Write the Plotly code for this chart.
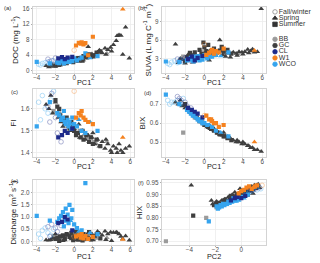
import plotly.graph_objects as go

# ---------------- data ----------------
# Spring, GC (dark triangles)
sgc_pc1 = [-3.0, -2.7, -2.3, -2.0, -1.7, -1.4, -1.0, -0.6, -0.3, 0.0, 0.3, 0.6, 0.9, 1.2, 1.5, 1.6, 1.9, 2.2, 2.5, 2.7, 3.0, 3.3, 3.6, 3.9, 4.2, 4.5, 4.6, 4.8, 5.0, 5.2, 5.5, 5.9, -2.5, -1.2, 0.5, 2.0, 3.4, 4.0]
sgc_doc = [1.3, 1.0, 1.4, 1.2, 1.6, 1.9, 2.0, 2.3, 2.1, 2.6, 2.9, 3.2, 3.0, 3.6, 6.2, 3.9, 4.3, 4.0, 4.8, 5.3, 4.6, 5.8, 5.4, 6.0, 6.7, 7.7, 9.0, 9.2, 9.1, 4.2, 11.2, 3.2, 1.1, 1.7, 2.4, 3.5, 4.2, 5.0]
sgc_suva = [5.3, 2.3, 2.8, 2.2, 3.6, 3.0, 2.6, 3.3, 2.9, 3.8, 3.2, 4.3, 3.5, 3.9, 4.2, 6.0, 3.6, 3.3, 3.9, 3.2, 4.0, 3.8, 4.1, 4.0, 4.1, 4.45, 3.9, 4.2, 4.5, 4.0, 4.1, 11.1, 3.0, 2.4, 2.7, 4.4, 3.5, 3.7]
sgc_fi = [1.62, 1.60, 1.58, 1.63, 1.56, 1.54, 1.55, 1.52, 1.50, 1.51, 1.49, 1.47, 1.50, 1.46, 1.48, 1.45, 1.47, 1.44, 1.46, 1.43, 1.45, 1.42, 1.44, 1.41, 1.43, 1.42, 1.40, 1.44, 1.41, 1.40, 1.42, 1.43, 1.66, 1.52, 1.53, 1.49, 1.46, 1.40]
sgc_bix = [0.71, 0.70, 0.69, 0.68, 0.67, 0.66, 0.64, 0.62, 0.61, 0.60, 0.58, 0.57, 0.57, 0.56, 0.55, 0.54, 0.54, 0.53, 0.52, 0.52, 0.51, 0.50, 0.50, 0.49, 0.49, 0.48, 0.48, 0.47, 0.47, 0.46, 0.46, 0.45, 0.72, 0.65, 0.59, 0.55, 0.51, 0.50]
sgc_q = [0.05, 0.04, 0.12, 0.30, 0.08, 0.18, 0.05, 0.25, 0.10, 0.05, 0.22, 0.12, 0.28, 0.08, 0.35, 0.15, 0.30, 0.20, 0.40, 0.33, 0.25, 0.42, 0.30, 0.37, 0.36, 0.37, 0.35, 0.30, 0.20, 0.10, 0.22, 0.04, 0.06, 0.02, 0.03, 0.05, 0.06, 0.02]
sgc_pc2 = [-3.85, -2.3, -2.2, -1.9, -1.5, -1.2, -1.0, -0.8, -0.6, -0.4, -0.2, 0.0, -0.5, 0.2, 0.4, -0.1, 0.6, 0.3, 0.8, 1.0, 0.7, 1.2, 0.9, 1.3, 0.5, 1.1, 0.1, -0.3, 1.4, -1.7, -1.4, -1.1, -2.0, -0.9, -0.7, 0.9, 0.5, -1.3]
sgc_hix = [0.94, 0.875, 0.86, 0.87, 0.875, 0.88, 0.89, 0.885, 0.895, 0.90, 0.905, 0.91, 0.91, 0.915, 0.92, 0.925, 0.93, 0.90, 0.935, 0.94, 0.915, 0.94, 0.92, 0.945, 0.905, 0.925, 0.895, 0.885, 0.93, 0.86, 0.865, 0.87, 0.865, 0.875, 0.90, 0.905, 0.925, 0.88]

# Spring, BB (grey triangles)
sbb_pc1 = [-1.5, 1.0, 2.4, 3.5]
sbb_doc = [1.4, 2.7, 3.6, 4.5]
sbb_suva = [2.7, 3.4, 3.8, 3.7]
sbb_fi = [1.58, 1.48, 1.44, 1.45]
sbb_bix = [0.66, 0.56, 0.53, 0.50]
sbb_q = [0.10, 0.05, 0.12, 0.15]
sbb_pc2 = [-1.6, 0.0, 0.6, 1.2]
sbb_hix = [0.87, 0.895, 0.915, 0.93]

# Summer, GC (dark squares)
ugc_pc1 = [-2.0, -1.8, -1.5, -1.2, -1.0, -0.8, -0.5, -0.3, 0.0, 0.2, 0.4, 0.7, 1.0, 1.3, 1.6, 2.0, 2.4, 2.8, -0.1, 1.8, -1.6, 0.9]
ugc_doc = [1.3, 2.0, 1.8, 2.2, 2.5, 2.0, 2.8, 2.4, 3.0, 2.7, 3.3, 3.1, 3.8, 3.5, 4.2, 4.0, 4.7, 5.0, 2.2, 3.6, 1.5, 2.6]
ugc_suva = [2.6, 3.2, 3.9, 3.5, 4.0, 3.0, 4.4, 3.7, 4.8, 4.2, 5.2, 3.9, 4.6, 4.0, 4.3, 4.1, 4.4, 3.8, 5.6, 4.9, 3.4, 3.6]
ugc_fi = [1.64, 1.61, 1.57, 1.55, 1.53, 1.56, 1.51, 1.54, 1.50, 1.48, 1.49, 1.47, 1.46, 1.48, 1.45, 1.44, 1.46, 1.43, 1.52, 1.47, 1.60, 1.50]
ugc_bix = [0.70, 0.68, 0.66, 0.65, 0.64, 0.63, 0.61, 0.61, 0.59, 0.59, 0.58, 0.57, 0.56, 0.55, 0.54, 0.53, 0.52, 0.51, 0.60, 0.54, 0.67, 0.57]
ugc_q = [0.10, 0.15, 0.20, 0.25, 0.12, 0.30, 0.18, 0.35, 0.20, 0.40, 0.10, 0.25, 0.30, 0.15, 0.38, 0.22, 0.28, 0.12, 0.05, 0.08, 0.02, 0.04]
ugc_pc2 = [-3.7, -2.1, -1.8, -1.5, -1.3, -1.0, -0.8, -0.6, -0.4, -0.2, 0.0, 0.2, 0.4, 0.6, 0.8, 1.0, 1.2, 0.3, -0.9, 0.5, -1.6, -0.3]
ugc_hix = [0.81, 0.855, 0.865, 0.86, 0.875, 0.87, 0.895, 0.88, 0.89, 0.90, 0.905, 0.90, 0.915, 0.92, 0.925, 0.93, 0.935, 0.91, 0.885, 0.90, 0.855, 0.895]

# Summer, BB (grey squares)
ubb_pc1 = [-2.2, -1.0, -0.2, 0.6, 1.4, 2.1]
ubb_doc = [1.6, 2.1, 2.5, 2.9, 3.4, 3.9]
ubb_suva = [3.3, 3.6, 4.0, 3.4, 4.1, 3.7]
ubb_fi = [1.59, 1.55, 1.52, 1.50, 1.47, 1.45]
ubb_bix = [0.55, 0.63, 0.60, 0.58, 0.55, 0.53]
ubb_q = [0.20, 0.15, 0.28, 0.35, 0.22, 0.10]
ubb_pc2 = [-5.8, -2.7, -0.5, 0.1, 0.7, -1.9]
ubb_hix = [0.70, 0.80, 0.885, 0.90, 0.915, 0.845]

# Fall/winter, WCO (open circles)
fwco_pc1 = [-3.8, -3.4, -3.1, -2.8, -2.5, -2.2, -3.6]
fwco_doc = [1.7, 1.9, 2.1, 2.3, 1.8, 2.6, 1.5]
fwco_suva = [2.2, 2.4, 2.6, 2.3, 2.8, 2.5, 2.0]
fwco_fi = [1.63, 1.66, 1.60, 1.58, 1.64, 1.68, 1.55]
fwco_bix = [0.72, 0.71, 0.71, 0.72, 0.70, 0.73, 0.70]
fwco_q = [0.30, 0.45, 0.55, 0.35, 0.25, 0.50, 0.12]
fwco_pc2 = [1.5, 1.2, 0.8, 1.0, 0.6, 1.3, 0.4]
fwco_hix = [0.925, 0.92, 0.915, 0.93, 0.91, 0.935, 0.905]

# Fall/winter, CL (open circles)
fcl_pc1 = [-2.8, -2.4, -2.0, -1.8, -1.4, -2.6]
fcl_doc = [3.0, 2.6, 3.3, 2.2, 2.8, 2.4]
fcl_suva = [2.9, 2.7, 3.1, 3.0, 2.6, 2.5]
fcl_fi = [1.61, 1.67, 1.56, 1.49, 1.45, 1.54]
fcl_bix = [0.74, 0.72, 0.71, 0.69, 0.68, 0.73]
fcl_q = [0.60, 0.70, 0.55, 0.40, 0.65, 0.20]
fcl_pc2 = [0.9, 0.5, 0.2, 1.1, 0.7, 1.4]
fcl_hix = [0.92, 0.915, 0.91, 0.925, 0.92, 0.93]

# Summer, WCO (blue squares)
uwco_pc1 = [-4.0, -1.6, -1.4, -1.2, -1.0, -0.9, -0.7, -0.6, -0.5, -0.3, -0.2, 0.0, 0.3, 0.8, 1.2, -1.8, -1.1, 2.5, -2.6]
uwco_doc = [2.3, 2.0, 2.8, 2.4, 3.0, 2.2, 2.6, 3.1, 2.3, 2.9, 2.5, 3.2, 2.7, 3.4, 4.5, 2.1, 1.9, 3.8, 1.9]
uwco_suva = [2.5, 2.8, 3.1, 2.6, 3.3, 2.9, 3.0, 3.4, 2.7, 3.2, 2.8, 3.5, 3.0, 3.3, 3.6, 2.7, 2.5, 4.0, 2.4]
uwco_fi = [1.52, 1.57, 1.55, 1.56, 1.54, 1.53, 1.55, 1.52, 1.54, 1.51, 1.56, 1.53, 1.52, 1.50, 1.49, 1.58, 1.59, 1.50, 1.63]
uwco_bix = [0.75, 0.66, 0.65, 0.64, 0.64, 0.63, 0.62, 0.62, 0.61, 0.61, 0.60, 0.60, 0.59, 0.58, 0.56, 0.67, 0.65, 0.53, 0.70]
uwco_q = [1.05, 0.95, 1.05, 1.20, 0.85, 1.35, 1.10, 0.75, 1.50, 0.95, 1.30, 0.70, 0.55, 0.45, 2.40, 0.80, 0.62, 0.30, 0.85]
uwco_pc2 = [-2.5, -1.8, -1.7, -1.5, -1.3, -1.1, -0.9, -0.7, -0.5, -0.3, -0.1, 0.1, 0.3, 0.5, -1.0, -1.6, -1.4, -0.6, -1.9]
uwco_hix = [0.785, 0.84, 0.845, 0.85, 0.855, 0.86, 0.865, 0.87, 0.875, 0.88, 0.885, 0.89, 0.895, 0.90, 0.87, 0.855, 0.86, 0.885, 0.85]

# Spring, WCO (blue triangles)
swco_pc1 = [-0.4, 0.5, 1.7]
swco_doc = [2.8, 3.0, 3.3]
swco_suva = [3.0, 3.2, 3.4]
swco_fi = [1.53, 1.55, 1.54]
swco_bix = [0.61, 0.59, 0.55]
swco_q = [0.85, 0.40, 0.35]
swco_pc2 = [-0.2, 0.2, -0.4]
swco_hix = [0.875, 0.885, 0.87]

# Summer, CL (navy squares)
ucl_pc1 = [-1.7, -1.3, -1.0, -0.7, -0.2]
ucl_doc = [3.2, 3.5, 3.0, 3.4, 3.6]
ucl_suva = [2.9, 3.3, 2.7, 3.1, 3.4]
ucl_fi = [1.47, 1.48, 1.50, 1.49, 1.51]
ucl_bix = [0.68, 0.67, 0.66, 0.65, 0.63]
ucl_q = [0.75, 0.80, 1.00, 0.90, 0.45]
ucl_pc2 = [-0.5, -0.3, 0.0, 0.3, -0.8]
ucl_hix = [0.885, 0.89, 0.885, 0.895, 0.875]

# Summer, W1 (orange squares)
uw1_pc1 = [0.2, 0.5, 0.7, 0.8, 1.0, 1.2, 2.0, 1.5]
uw1_doc = [6.5, 7.2, 7.0, 7.3, 6.8, 7.1, 8.75, 4.0]
uw1_suva = [3.6, 3.9, 4.1, 4.4, 3.8, 4.2, 4.6, 4.0]
uw1_fi = [1.56, 1.58, 1.57, 1.59, 1.56, 1.55, 1.53, 1.54]
uw1_bix = [0.64, 0.62, 0.62, 0.61, 0.60, 0.60, 0.59, 0.58]
uw1_q = [0.20, 0.25, 0.15, 0.30, 0.12, 0.22, 0.18, 0.10]
uw1_pc2 = [0.4, 0.6, 0.8, 1.05, 0.2, 1.2, 0.0, -0.2]
uw1_hix = [0.93, 0.935, 0.925, 0.935, 0.92, 0.94, 0.915, 0.905]

# Spring, W1 (orange triangle)
sw1_pc1 = [5.2]
sw1_doc = [15.8]
sw1_suva = [4.3]
sw1_fi = [1.47]
sw1_bix = [0.50]
sw1_q = [0.08]
sw1_pc2 = [0.9]
sw1_hix = [0.93]

# Fall/winter, W1 (orange open circle)
fw1_pc1 = [0.0]
fw1_doc = [5.3]
fw1_suva = [5.3]
fw1_fi = [1.68]
fw1_bix = [0.64]
fw1_q = [0.18]
fw1_pc2 = [1.6]
fw1_hix = [0.94]

legend_labels = ["Fall/winter", "Spring", "Summer", "BB", "GC", "CL", "W1", "WCO"]

# ---------------- styling ----------------
site_colors = {"BB": "#9b9b9b", "GC": "#3f3f3f", "CL": "#1d2a8a", "W1": "#f5821f", "WCO": "#35a4ee"}
season_symbols = {"Fall/winter": "circle-open", "Spring": "triangle-up", "Summer": "square"}
season_sizes = {"Fall/winter": 4.6, "Spring": 5, "Summer": 4.2}

def pack(pc1, doc, suva, fi, bix, q, pc2, hix):
    return {"pc1": pc1, "doc": doc, "suva": suva, "fi": fi, "bix": bix, "q": q, "pc2": pc2, "hix": hix}

groups = [
    ("Summer", "BB", pack(ubb_pc1, ubb_doc, ubb_suva, ubb_fi, ubb_bix, ubb_q, ubb_pc2, ubb_hix)),
    ("Spring", "BB", pack(sbb_pc1, sbb_doc, sbb_suva, sbb_fi, sbb_bix, sbb_q, sbb_pc2, sbb_hix)),
    ("Summer", "GC", pack(ugc_pc1, ugc_doc, ugc_suva, ugc_fi, ugc_bix, ugc_q, ugc_pc2, ugc_hix)),
    ("Spring", "GC", pack(sgc_pc1, sgc_doc, sgc_suva, sgc_fi, sgc_bix, sgc_q, sgc_pc2, sgc_hix)),
    ("Fall/winter", "WCO", pack(fwco_pc1, fwco_doc, fwco_suva, fwco_fi, fwco_bix, fwco_q, fwco_pc2, fwco_hix)),
    ("Fall/winter", "CL", pack(fcl_pc1, fcl_doc, fcl_suva, fcl_fi, fcl_bix, fcl_q, fcl_pc2, fcl_hix)),
    ("Summer", "WCO", pack(uwco_pc1, uwco_doc, uwco_suva, uwco_fi, uwco_bix, uwco_q, uwco_pc2, uwco_hix)),
    ("Spring", "WCO", pack(swco_pc1, swco_doc, swco_suva, swco_fi, swco_bix, swco_q, swco_pc2, swco_hix)),
    ("Summer", "CL", pack(ucl_pc1, ucl_doc, ucl_suva, ucl_fi, ucl_bix, ucl_q, ucl_pc2, ucl_hix)),
    ("Summer", "W1", pack(uw1_pc1, uw1_doc, uw1_suva, uw1_fi, uw1_bix, uw1_q, uw1_pc2, uw1_hix)),
    ("Spring", "W1", pack(sw1_pc1, sw1_doc, sw1_suva, sw1_fi, sw1_bix, sw1_q, sw1_pc2, sw1_hix)),
    ("Fall/winter", "W1", pack(fw1_pc1, fw1_doc, fw1_suva, fw1_fi, fw1_bix, fw1_q, fw1_pc2, fw1_hix)),
]

panels = [("pc1", "doc"), ("pc1", "suva"), ("pc1", "fi"), ("pc1", "bix"), ("pc1", "q"), ("pc2", "hix")]

fig = go.Figure()
for season, site, d in groups:
    for pi, (xk, yk) in enumerate(panels):
        ax = "" if pi == 0 else str(pi + 1)
        is_open = season == "Fall/winter"
        fig.add_trace(go.Scatter(
            x=d[xk], y=d[yk], mode="markers",
            xaxis="x" + ax, yaxis="y" + ax,
            marker=dict(symbol=season_symbols[season], size=season_sizes[season],
                        color=site_colors[site],
                        line=dict(width=0.8 if is_open else 0, color=site_colors[site])),
            opacity=0.45 if is_open else 1.0,
            showlegend=False, hoverinfo="skip"))

# legend drawn on a hidden axis (one row per entry)
legend_rows = [0, 1, 2, 4.4, 5.4, 6.4, 7.4, 8.4]
legend_syms = ["circle-open", "triangle-up", "square"] + ["circle"] * 5
legend_cols = ["#8a8a8a", "#333333", "#333333"] + [site_colors[s] for s in legend_labels[3:]]
fig.add_trace(go.Scatter(
    x=[1.0] * len(legend_labels), y=legend_rows, mode="markers+text",
    text=legend_labels, textposition="middle right",
    textfont=dict(size=7, color="#333333", family="Liberation Sans, Arial"),
    marker=dict(symbol=legend_syms, color=legend_cols, size=4.5,
                line=dict(width=0.8, color=legend_cols)),
    xaxis="x7", yaxis="y7", showlegend=False, hoverinfo="skip", cliponaxis=False))

W, H = 320, 263
def fx(a, b):
    return [a / W, b / W]
def fy(top, bottom):
    return [1 - bottom / H, 1 - top / H]

col_dom = [fx(33, 134), fx(162, 266)]
row_dom = [fy(5, 72), fy(88, 157), fy(180, 246)]

common = dict(showline=True, linecolor="#c8c8c8", linewidth=0.8, mirror=True,
              showgrid=True, gridcolor="#ececec", gridwidth=0.8, zeroline=False,
              ticks="outside", ticklen=1.5, tickcolor="#999999", tickwidth=0.8,
              tickfont=dict(size=6.3, color="#4d4d4d"))
title_font = dict(size=8, color="#222222")

ytitles = ["DOC (mg L<sup>-1</sup>)", "SUVA (L mg C<sup>-1</sup> m<sup>-1</sup>)", "FI", "BIX",
           "Discharge (m<sup>3</sup> s<sup>-1</sup>)", "HIX"]
xtitles = ["PC1", "PC1", "PC1", "PC1", "PC1", "PC2"]
yranges = [[-0.6, 16.4], [0.6, 11.4], [1.38, 1.69], [0.42, 0.78], [-0.16, 2.53], [0.683, 0.963]]
ytickvals = [[0, 4, 8, 12, 16], [3, 6, 9], [1.4, 1.5, 1.6], [0.5, 0.6, 0.7],
             [0, 0.5, 1.0, 1.5, 2.0], [0.70, 0.75, 0.80, 0.85, 0.90, 0.95]]
ytickfmt = ["d", "d", ".1f", ".1f", ".1f", ".2f"]
xranges = [[-4.4, 6.4]] * 5 + [[-6.1, 1.9]]
xtickvals = [[-4, -2, 0, 2, 4, 6]] * 5 + [[-4, -2, 0]]
xtitle_y = [81.5, 81.5, 166, 166, 257.5, 257.5]

layout = dict(width=W, height=H, margin=dict(l=0, r=0, t=0, b=0),
              paper_bgcolor="white", plot_bgcolor="white",
              font=dict(family="Liberation Sans, Arial", color="#222222"))
annotations = []
for pi in range(6):
    r, c = divmod(pi, 2)
    ax = "" if pi == 0 else str(pi + 1)
    layout["xaxis" + ax] = dict(common, domain=col_dom[c], range=xranges[pi], tickvals=xtickvals[pi],
                                anchor="y" + ax, ticklabelstandoff=-3)
    layout["yaxis" + ax] = dict(common, domain=row_dom[r], range=yranges[pi], tickvals=ytickvals[pi],
                                tickformat=ytickfmt[pi], anchor="x" + ax,
                                title=dict(text=ytitles[pi], font=title_font, standoff=2))
    annotations.append(dict(text=xtitles[pi], x=sum(col_dom[c]) / 2, y=1 - xtitle_y[pi] / H,
                            xref="paper", yref="paper", showarrow=False,
                            font=dict(size=7.3, color="#222222"),
                            xanchor="center", yanchor="middle"))
layout["xaxis7"] = dict(domain=fx(270, 320), range=[0, 10], visible=False, fixedrange=True, anchor="y7")
layout["yaxis7"] = dict(domain=fy(4, 68), range=[9.21, -0.95], visible=False, fixedrange=True, anchor="x7")

panel_tags = ["(a)", "(b)", "(c)", "(d)", "(e)", "(f)"]
tag_pos = [(7, 6), (141, 6), (14, 91), (147, 92), (14, 181), (141, 183)]
for t, (px, py) in zip(panel_tags, tag_pos):
    annotations.append(dict(text=t, x=px / W, y=1 - py / H, xref="paper", yref="paper", showarrow=False,
                            font=dict(size=6, color="#333333"), xanchor="center", yanchor="middle"))
layout["annotations"] = annotations

fig.update_layout(layout)
# remove the browser's default page margin so the 320x263 figure fills the window exactly
fig.write_html("out.html", config={"displayModeBar": False, "staticPlot": True},
               post_script="document.body.style.margin='0px'; document.body.style.overflow='hidden';")
